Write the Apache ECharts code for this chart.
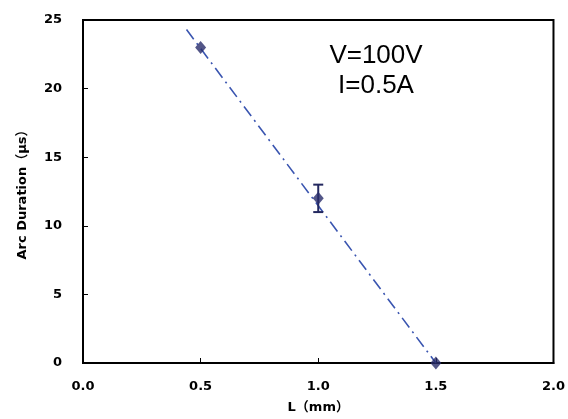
<!DOCTYPE html>
<html>
<head>
<meta charset="utf-8">
<script src="https://cdn.jsdelivr.net/npm/echarts@6/dist/echarts.min.js"></script>
<style>
  html, body { margin: 0; padding: 0; background: #fff; overflow: hidden; }
  #chart { width: 568px; height: 419px; }
</style>
</head>
<body>
<div id="chart"></div>
<script>
// measured points
const lengths = [0.5, 1.0, 1.5];
const durations = [23, 12, 0];
// error bars (low, high) for each point, null = none
const errLow = [null, 11, null];
const errHigh = [null, 13, null];
// fitted line end points
const fitX = [0.44, 1.5];
const fitY = [24.3, 0];

const xTicks = { min: 0, max: 2, step: 0.5 };
const yTicks = { min: 0, max: 25, step: 5 };

const labelFont = '"DejaVu Sans", "Noto Sans CJK JP", sans-serif';

const chart = echarts.init(document.getElementById('chart'));

const points = lengths.map((x, i) => [x, durations[i]]);
const errData = lengths
  .map((x, i) => [x, errLow[i], errHigh[i]])
  .filter(d => d[1] !== null);

const option = {
  animation: false,
  grid: {
    left: 83, top: 20, right: 11, bottom: 52,
    show: true, borderColor: '#000', borderWidth: 2
  },
  xAxis: {
    type: 'value',
    min: xTicks.min, max: xTicks.max, interval: xTicks.step,
    name: 'L（mm）',
    nameLocation: 'middle',
    nameGap: 38,
    nameTextStyle: { fontFamily: labelFont, fontWeight: 'bold', fontSize: 13, color: '#000' },
    axisLine: { show: true, lineStyle: { color: '#000', width: 2 } },
    axisTick: { show: true, inside: true, length: 5, lineStyle: { color: '#000' } },
    axisLabel: {
      margin: 17, color: '#000', fontWeight: 'bold', fontSize: 13, fontFamily: labelFont,
      formatter: v => v.toFixed(1)
    },
    splitLine: { show: false }
  },
  yAxis: {
    type: 'value',
    min: yTicks.min, max: yTicks.max, interval: yTicks.step,
    name: 'Arc Duration（μs）',
    nameLocation: 'middle',
    nameGap: 54,
    nameTextStyle: { fontFamily: labelFont, fontWeight: 'bold', fontSize: 13, color: '#000' },
    axisLine: { show: true, lineStyle: { color: '#000', width: 2 } },
    axisTick: { show: true, inside: true, length: 5, lineStyle: { color: '#000' } },
    axisLabel: { margin: 21, color: '#000', fontWeight: 'bold', fontSize: 13, fontFamily: labelFont },
    splitLine: { show: false }
  },
  graphic: [{
    type: 'text',
    x: 376, y: 41,
    style: {
      text: 'V=100V\nI=0.5A',
      fontFamily: '"Liberation Sans", Arial, sans-serif',
      fontSize: 26, lineHeight: 30, fill: '#000',
      align: 'center', verticalAlign: 'top'
    }
  }],
  series: [
    {
      type: 'line',
      data: fitX.map((x, i) => [x, fitY[i]]),
      symbol: 'none',
      lineStyle: { color: '#3a55b0', width: 1.6, type: [12, 5, 2, 5] },
      z: 2
    },
    {
      type: 'custom',
      data: errData,
      renderItem: (params, api) => {
        const x = api.value(0);
        const lo = api.coord([x, api.value(1)]);
        const hi = api.coord([x, api.value(2)]);
        const w = 5;
        const style = { stroke: '#23285f', lineWidth: 2 };
        return {
          type: 'group',
          children: [
            { type: 'line', shape: { x1: lo[0], y1: lo[1], x2: hi[0], y2: hi[1] }, style },
            { type: 'line', shape: { x1: lo[0] - w, y1: lo[1], x2: lo[0] + w, y2: lo[1] }, style },
            { type: 'line', shape: { x1: hi[0] - w, y1: hi[1], x2: hi[0] + w, y2: hi[1] }, style }
          ]
        };
      },
      z: 3
    },
    {
      type: 'scatter',
      data: points,
      symbol: 'diamond',
      symbolSize: [11, 13],
      itemStyle: { color: '#282c6a' },
      z: 4
    }
  ]
};

chart.setOption(option);
</script>
</body>
</html>
